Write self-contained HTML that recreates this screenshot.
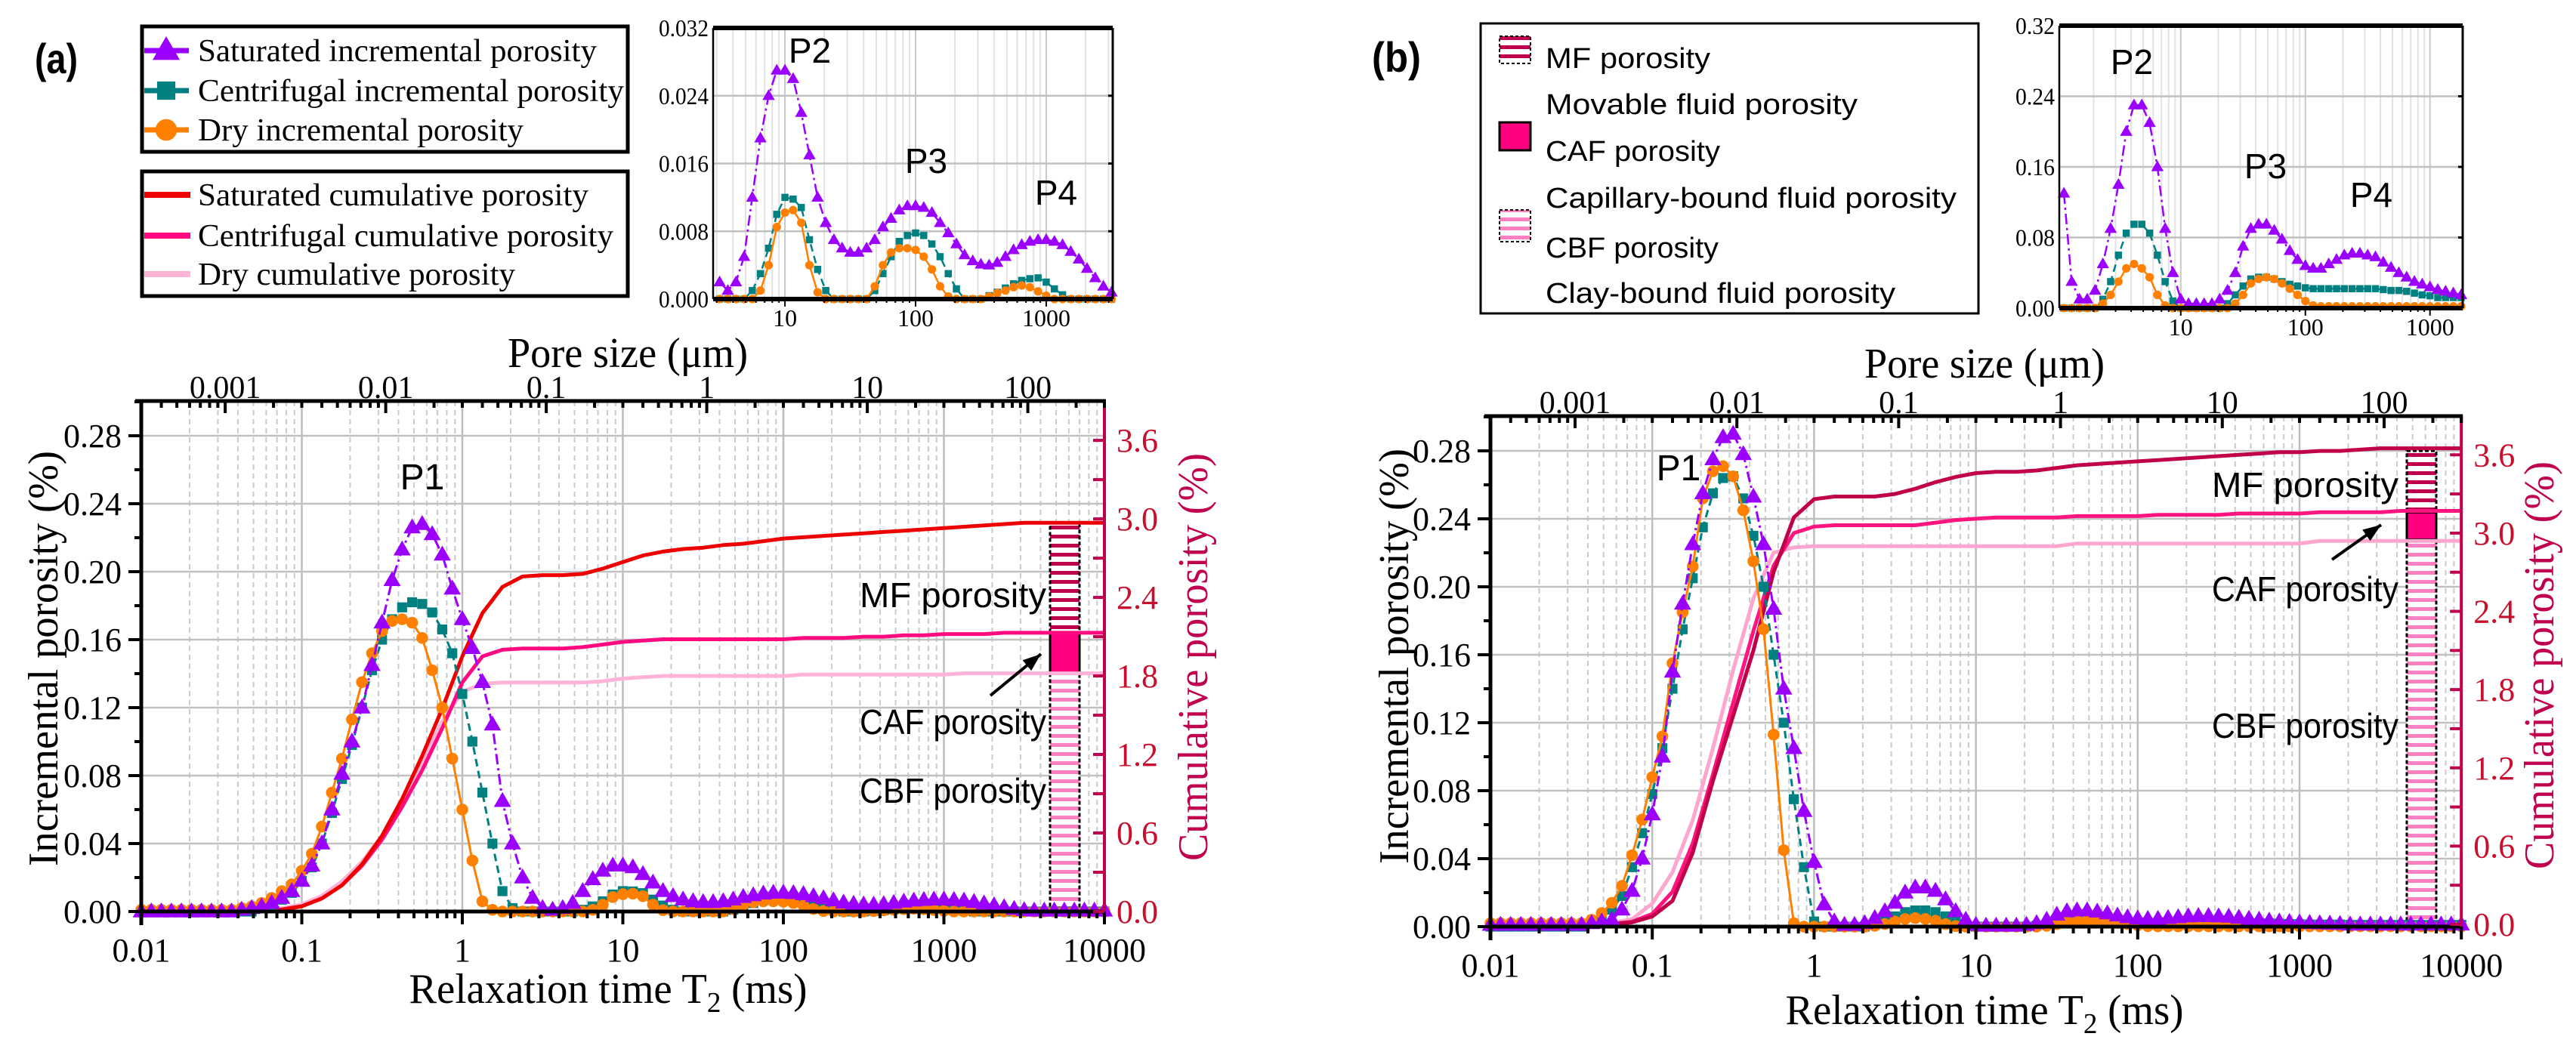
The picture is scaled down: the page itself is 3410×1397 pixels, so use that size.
<!DOCTYPE html>
<html><head><meta charset="utf-8"><style>
html,body{margin:0;padding:0;background:#fff;}
svg{display:block;}
</style></head><body>
<svg id="c" width="3410" height="1397" viewBox="0 0 3410 1397" xmlns="http://www.w3.org/2000/svg" font-family="'Liberation Serif', serif">
<defs>
<pattern id="mfStripe" width="10" height="12" patternUnits="userSpaceOnUse"><rect width="10" height="12" fill="#fff"/><rect y="0" width="10" height="5" fill="#c0004f"/></pattern>
<pattern id="cbfStripe" width="10" height="12" patternUnits="userSpaceOnUse"><rect width="10" height="12" fill="#fff"/><rect y="0" width="10" height="5" fill="#ff80c0"/></pattern>
</defs>
<rect width="3410" height="1397" fill="#fff"/>
</svg>
<script>
// ---------- grids (categories) ----------
const kGrid = Array.from({length:97},(_,k)=>Math.pow(10,-2+k/16));
const jGrid = Array.from({length:49},(_,j)=>Math.pow(10,-2+j/8));

// ---------- panel (a) data ----------
const incSatA = [0,0,0,0,0,0,0,0,0,0,
0.001,0.002,0.003,0.005,0.008,0.012,0.018,0.027,0.04,0.06,
0.081,0.1,0.12,0.145,0.17,0.195,0.213,0.226,0.228,0.222,
0.21,0.19,0.172,0.155,0.135,0.11,0.065,0.04,0.02,0.008,
0.002,0.001,0.002,0.005,0.012,0.019,0.024,0.027,0.027,0.026,
0.022,0.017,0.012,0.009,0.007,0.006,0.0055,0.0055,0.006,0.007,
0.0085,0.0095,0.0105,0.011,0.011,0.0108,0.0102,0.009,0.0078,0.0065,
0.0052,0.0045,0.0041,0.004,0.0043,0.005,0.0058,0.0064,0.0068,0.007,
0.007,0.0068,0.0064,0.0056,0.0047,0.0036,0.0025,0.0015,0.0008,0.0005,
0.0005,0.0005,0.0005,0.0005,0.0005,0.0005,0.0005];
const incCentA = [0,0,0,0,0,0,0,0,0,0,
0,0,0.002,0.004,0.007,0.011,0.018,0.026,0.04,0.058,
0.078,0.098,0.12,0.142,0.16,0.172,0.179,0.182,0.181,0.176,
0.166,0.152,0.128,0.1,0.07,0.04,0.012,0.002,0,0,
0,0,0,0,0.001,0.003,0.006,0.01,0.012,0.0118,
0.0108,0.007,0.0035,0.001,0,0,0,0,0,0.001,
0.003,0.005,0.0068,0.0075,0.0078,0.0075,0.0065,0.005,0.003,0.0012,
0,0,0,0.0004,0.0008,0.0013,0.0018,0.0022,0.0024,0.0025,
0.002,0.0012,0.0005,0,0,0,0,0,0,0,
0,0,0,0,0,0,0];
const incDryA = [0.001,0.001,0.001,0.001,0.001,0.001,0.001,0.001,0.001,0.001,
0.002,0.003,0.005,0.008,0.012,0.016,0.024,0.034,0.05,0.07,
0.09,0.113,0.135,0.152,0.165,0.171,0.172,0.17,0.161,0.142,
0.12,0.09,0.06,0.03,0.006,0.001,0,0,0,0,
0,0,0,0,0,0.001,0.004,0.0085,0.0102,0.0105,
0.009,0.004,0.0008,0,0,0,0,0,0,0.0015,
0.004,0.0055,0.006,0.006,0.0058,0.005,0.0035,0.0015,0.0003,0,
0,0,0,0.0003,0.0007,0.001,0.0014,0.0016,0.0014,0.0009,
0.0004,0,0,0,0,0,0,0,0,0,
0,0,0,0,0,0,0];
const cumSatA = [0,0,0,0,0,0,0.005,0.015,0.04,0.1,
0.2,0.36,0.58,0.86,1.19,1.55,1.95,2.28,2.48,2.56,
2.57,2.57,2.58,2.62,2.67,2.72,2.75,2.77,2.78,2.8,
2.81,2.83,2.85,2.86,2.87,2.88,2.89,2.9,2.91,2.92,
2.93,2.94,2.95,2.96,2.97,2.97,2.97,2.97,2.97];
const cumCentA = [0,0,0,0,0,0,0.005,0.015,0.04,0.1,
0.2,0.35,0.55,0.8,1.08,1.4,1.75,1.95,2.0,2.01,
2.01,2.01,2.02,2.04,2.06,2.07,2.08,2.08,2.08,2.08,
2.08,2.08,2.08,2.09,2.09,2.09,2.1,2.1,2.11,2.11,
2.12,2.12,2.12,2.13,2.13,2.13,2.13,2.13,2.13];
const cumDryA = [0,0,0,0,0,0,0.01,0.025,0.055,0.12,
0.23,0.38,0.58,0.85,1.15,1.45,1.68,1.74,1.75,1.75,
1.75,1.75,1.75,1.76,1.78,1.79,1.8,1.8,1.8,1.8,
1.8,1.8,1.8,1.81,1.81,1.81,1.81,1.81,1.81,1.81,
1.81,1.82,1.82,1.82,1.82,1.82,1.82,1.82,1.82];
const barA = [1.82, 2.13, 2.97];

// ---------- panel (b) data ----------
const incSatB = [0.001,0.001,0.001,0.001,0.001,0.001,0.001,0.001,0.001,0.001,
0.002,0.003,0.004,0.01,0.021,0.04,0.066,0.1,0.15,0.19,
0.225,0.255,0.275,0.288,0.29,0.278,0.253,0.225,0.187,0.14,
0.105,0.068,0.038,0.013,0.003,0.001,0.001,0.002,0.005,0.009,
0.014,0.02,0.023,0.023,0.021,0.016,0.009,0.004,0.001,0.0005,
0.0005,0.0005,0.0005,0.001,0.002,0.004,0.007,0.009,0.0095,0.0095,
0.0088,0.0078,0.0065,0.0055,0.0048,0.0045,0.0045,0.005,0.0055,0.006,
0.0062,0.0062,0.006,0.0058,0.0052,0.0046,0.004,0.0035,0.003,0.0027,
0.0024,0.0021,0.0019,0.0017,0.0015,0.0012,0.0012,0.0012,0.0012,0.0012,
0.0012,0.0012,0.0012,0.0012,0.0012,0.0012,0.0012];
const incCentB = [0,0,0,0,0,0,0,0,0,0,
0.002,0.005,0.01,0.018,0.035,0.055,0.078,0.105,0.14,0.175,
0.205,0.235,0.255,0.264,0.265,0.252,0.23,0.2,0.16,0.12,
0.075,0.035,0.003,0,0,0,0,0,0.001,0.003,
0.006,0.0085,0.0095,0.0095,0.0085,0.006,0.003,0.0008,0,0,
0,0,0,0,0.0005,0.0015,0.0025,0.0033,0.0035,0.0035,
0.0033,0.003,0.0027,0.0025,0.0023,0.0022,0.0022,0.0022,0.0022,0.0022,
0.0022,0.0022,0.0022,0.0022,0.0021,0.002,0.002,0.0019,0.0017,0.0015,
0.0014,0.0012,0.0012,0.0012,0.0012,0.001,0.001,0.001,0.001,0.001,
0.001,0.001,0.001,0.001,0.001,0.001,0.001];
const incDryB = [0.002,0.002,0.002,0.002,0.002,0.002,0.002,0.002,0.002,0.002,
0.004,0.008,0.014,0.024,0.042,0.063,0.088,0.112,0.155,0.185,
0.212,0.252,0.268,0.271,0.265,0.245,0.215,0.175,0.113,0.045,
0.002,0,0,0,0,0,0,0,0.0005,0.0015,
0.003,0.0045,0.005,0.0045,0.0035,0.0015,0.0003,0,0,0,
0,0,0,0,0,0.0005,0.0015,0.0028,0.0033,0.0035,
0.0033,0.0028,0.0022,0.0015,0.0008,0.0003,0.0002,0.0002,0.0002,0.0002,
0.0002,0.0002,0.0002,0.0002,0.0002,0.0002,0.0002,0.0002,0.0002,0.0002,
0.0002,0.0002,0.0002,0.0002,0.0002,0.0002,0.0002,0.0002,0.0002,0.0002,
0.0002,0.0002,0.0002,0.0002,0.0002,0.0002,0.0002];
const cumSatB = [0,0,0,0,0,0,0.002,0.015,0.06,0.18,
0.55,1.1,1.6,2.1,2.7,3.12,3.26,3.28,3.28,3.28,
3.3,3.34,3.39,3.43,3.46,3.47,3.47,3.48,3.5,3.52,
3.53,3.54,3.55,3.56,3.57,3.58,3.59,3.6,3.61,3.62,
3.62,3.63,3.63,3.64,3.65,3.65,3.65,3.65,3.65];
const cumCentB = [0,0,0,0,0,0,0.003,0.02,0.08,0.25,
0.62,1.15,1.7,2.25,2.75,3.0,3.05,3.06,3.06,3.06,
3.06,3.06,3.08,3.1,3.11,3.12,3.12,3.12,3.12,3.13,
3.13,3.13,3.13,3.14,3.14,3.14,3.14,3.15,3.15,3.15,
3.15,3.16,3.16,3.16,3.16,3.17,3.17,3.17,3.17];
const cumDryB = [0,0,0,0,0,0,0.01,0.04,0.16,0.4,
0.8,1.35,1.95,2.5,2.85,2.89,2.9,2.9,2.9,2.9,
2.9,2.9,2.9,2.9,2.9,2.9,2.9,2.9,2.9,2.92,
2.92,2.92,2.92,2.92,2.92,2.92,2.92,2.92,2.92,2.92,
2.92,2.94,2.94,2.94,2.94,2.94,2.94,2.94,2.94];
const barB = [2.95, 3.16, 3.63];

// ---------- tick arrays ----------
const incTicks = [0,0.04,0.08,0.12,0.16,0.2,0.24,0.28];
const incTickLabels = ['0.00','0.04','0.08','0.12','0.16','0.20','0.24','0.28'];
const cumTicks = [0,0.6,1.2,1.8,2.4,3.0,3.6];
const cumTickLabels = ['0.0','0.6','1.2','1.8','2.4','3.0','3.6'];
const t2Ticks = [0.01,0.1,1,10,100,1000,10000];
const t2TickLabels = ['0.01','0.1','1','10','100','1000','10000'];
const poreTicks = [0.001,0.01,0.1,1,10,100];
const poreTickLabels = ['0.001','0.01','0.1','1','10','100'];
const insetTicksA = [0,0.008,0.016,0.024,0.032];
const insetLabelsA = ['0.000','0.008','0.016','0.024','0.032'];
const insetTicksB = [0,0.008,0.016,0.024,0.032];
const insetLabelsB = ['0.00','0.08','0.16','0.24','0.32'];
const insetXTicks = [10,100,1000];
const insetXLabels = ['10','100','1000'];
const poreFactor = 0.03;

// ---------- helpers ----------
const NS='http://www.w3.org/2000/svg';
const svg=document.getElementById('c');
function mk(tag, attrs, parent){const e=document.createElementNS(NS,tag);for(const a in attrs)e.setAttribute(a,attrs[a]);(parent||svg).appendChild(e);return e;}
function tx(str, attrs, parent){const e=mk('text',attrs,parent);e.textContent=str;return e;}
function grp(parent){return mk('g',{},parent);}

function marker(g,type,x,y,s,color){
  let e;
  if(type==='tri'){e=mk('polygon',{points:`${x},${y-s} ${x-s*0.95},${y+s*0.65} ${x+s*0.95},${y+s*0.65}`,fill:color},g);}
  else if(type==='sq'){e=mk('rect',{x:x-s*0.55,y:y-s*0.55,width:s*1.1,height:s*1.1,fill:color},g);}
  else {e=mk('circle',{cx:x,cy:y,r:s*0.65,fill:color},g);}
  return e;
}

const PURPLE='#9b00ff', TEAL='#008080', ORANGE='#ff8000';

function drawMain(P){
  const x1=P.x0+6*P.dec;
  const lx=T=>P.x0+(Math.log10(T)+2)*P.dec;
  const yi=v=>P.yZero-v*P.incPx;
  const yc=v=>P.cumZero-v*P.cumPx;
  const root=grp();
  
  
  // grid
  const gg=grp(root);
  
  
  for(let d=-2;d<=3;d++){for(let m=1;m<=9;m++){
    const x=lx(m*Math.pow(10,d));
    const ln=mk('line',{x1:x,x2:x,y1:P.yTop,y2:P.yZero,stroke:m===1?'#bdbdbd':'#cacaca','stroke-width':m===1?2.5:2,'stroke-dasharray':m===1?'none':'7 5'},gg);
    
    
  }}
  incTicks.forEach(v=>{if(v===0)return;
    const ln=mk('line',{x1:P.x0,x2:x1,y1:yi(v),y2:yi(v),stroke:'#c0c0c0','stroke-width':2.5},gg);
    
    
  });
  // bar
  const bx=P.barX, bw=P.barW;
  const bg=grp(root);
  
  
  const cbf=mk('rect',{x:bx,y:yc(P.bar[0]),width:bw,height:yc(0)-yc(P.bar[0]),fill:'url(#cbfStripe)',stroke:'#000','stroke-width':3,'stroke-dasharray':'5 3'},bg);
  
  
  const caf=mk('rect',{x:bx,y:yc(P.bar[1]),width:bw,height:yc(P.bar[0])-yc(P.bar[1]),fill:'#ff0080',stroke:'#000','stroke-width':3},bg);
  
  
  const mf=mk('rect',{x:bx,y:yc(P.bar[2]),width:bw,height:yc(P.bar[1])-yc(P.bar[2]),fill:'url(#mfStripe)',stroke:'#000','stroke-width':3,'stroke-dasharray':'5 3'},bg);
  
  
  // cumulative curves
  P.cums.forEach(c=>{
    const pts=c.vals.map((v,j)=>`${lx(jGrid[j]).toFixed(1)},${yc(v).toFixed(1)}`).join(' ');
    const pl=mk('polyline',{points:pts,fill:'none',stroke:c.color,'stroke-width':5,'stroke-linejoin':'round'},root);
    
    
  });
  // incremental series
  P.incs.forEach(s=>{
    const sg=grp(root);
    
    
    const pts=s.vals.map((v,k)=>`${lx(kGrid[k]).toFixed(1)},${yi(v).toFixed(1)}`).join(' ');
    const pl=mk('polyline',{points:pts,fill:'none',stroke:s.color,'stroke-width':3,'stroke-dasharray':s.dash},sg);
    
    
    s.vals.forEach((v,k)=>{
      const m=marker(sg,s.marker,lx(kGrid[k]),yi(v),s.size,s.color);
      
      
    });
  });
  // axes
  const ag=grp(root);
  
  
  const la=mk('line',{x1:P.x0,x2:P.x0,y1:P.yTop-2,y2:P.yZero+18,stroke:'#000','stroke-width':5},ag);
  
  
  const ba=mk('line',{x1:P.x0-2,x2:x1+2,y1:P.yZero,y2:P.yZero,stroke:'#000','stroke-width':5},ag);
  
  
  const ta=mk('line',{x1:P.x0-8,x2:x1+2,y1:P.yTop,y2:P.yTop,stroke:'#000','stroke-width':5},ag);
  
  
  const ra=mk('line',{x1:x1,x2:x1,y1:P.yTop,y2:P.yZero,stroke:'#c0004f','stroke-width':4},ag);
  
  
  // bottom ticks
  for(let d=-2;d<=4;d++){for(let m=1;m<=9;m++){
    const T=m*Math.pow(10,d); if(T>10000.01)continue;
    const x=lx(T);
    const tk=mk('line',{x1:x,x2:x,y1:P.yZero,y2:P.yZero+(m===1?17:9),stroke:'#000','stroke-width':4},ag);
    
    
  }}
  t2Ticks.forEach((T,i)=>{
    const t=tx(t2TickLabels[i],{x:lx(T),y:P.yZero+66,'font-size':44,'text-anchor':'middle'},ag);
    
    
  });
  // top pore ticks
  for(let d=-4;d<=3;d++){for(let m=1;m<=9;m++){
    const p=m*Math.pow(10,d);const T=p/poreFactor; if(T<0.01||T>10000)continue;
    const x=lx(T);
    const tk=mk('line',{x1:x,x2:x,y1:P.yTop,y2:P.yTop+(m===1?16:9),stroke:'#000','stroke-width':4},ag);
    
    
  }}
  poreTicks.forEach((p,i)=>{
    const t=tx(poreTickLabels[i],{x:lx(p/poreFactor),y:P.yTop-4,'font-size':42,'text-anchor':'middle'},ag);
    
    
  });
  // left ticks
  incTicks.forEach((v,i)=>{
    const tk=mk('line',{x1:P.x0-17,x2:P.x0,y1:yi(v),y2:yi(v),stroke:'#000','stroke-width':4},ag);
    
    
    const mn=mk('line',{x1:P.x0-9,x2:P.x0,y1:yi(v+0.02),y2:yi(v+0.02),stroke:'#000','stroke-width':4},ag);
    
    
    const t=tx(incTickLabels[i],{x:P.x0-26,y:yi(v)+15,'font-size':44,'text-anchor':'end'},ag);
    
    
  });
  // right cumulative ticks
  cumTicks.forEach((v,i)=>{
    const tk=mk('line',{x1:x1-15,x2:x1,y1:yc(v),y2:yc(v),stroke:'#c0004f','stroke-width':4},ag);
    
    
    if(v<3.6){const mn=mk('line',{x1:x1-15,x2:x1,y1:yc(v+0.3),y2:yc(v+0.3),stroke:'#c0004f','stroke-width':4},ag);
    
    }
    const t=tx(cumTickLabels[i],{x:x1+16,y:yc(v)+15,'font-size':44,fill:'#c8102e'},ag);
    
    
  });
  // titles
  const xt=tx('Relaxation time T',{x:P.xTitleX,y:P.xTitleY,'font-size':56,'text-anchor':'middle',textLength:527,lengthAdjust:'spacingAndGlyphs'},root);
  
  
  const ts=mk('tspan',{'font-size':38,dy:12},xt); ts.textContent='2';
  const ts2=mk('tspan',{dy:-12},xt); ts2.textContent=' (ms)';
  const pt=tx('Pore size (μm)',{x:P.poreTitleX,y:P.poreTitleY,'font-size':56,'text-anchor':'middle',textLength:318,lengthAdjust:'spacingAndGlyphs'},root);
  
  
  const yt=tx('Incremental porosity (%)',{transform:`translate(${P.yTitleX},${P.yTitleY}) rotate(-90)`,'font-size':56,'text-anchor':'middle',textLength:550,lengthAdjust:'spacingAndGlyphs'},root);
  
  
  const ct=tx('Cumulative porosity (%)',{transform:`translate(${P.cTitleX},${P.cTitleY}) rotate(-90)`,'font-size':56,'text-anchor':'middle',fill:'#c0004f',textLength:540,lengthAdjust:'spacingAndGlyphs'},root);
  
  
  // annotations
  const sans="'Liberation Sans', sans-serif";
  const p1=tx('P1',{x:P.p1[0],y:P.p1[1]+17,'font-size':48,'text-anchor':'middle','font-family':sans},root);
  
  
  [['MF porosity',P.mfY,'mf-porosity-label'],['CAF porosity',P.cafY,'caf-porosity-label'],['CBF porosity',P.cbfY,'cbf-porosity-label']].forEach(a=>{
    const t=tx(a[0],{x:P.labRight,y:a[1]+16,'font-size':46,'text-anchor':'end','font-family':sans,textLength:247,lengthAdjust:'spacingAndGlyphs'},root);
    
    
  });
  const ar=mk('line',{x1:P.arrow[0],y1:P.arrow[1],x2:P.arrow[2],y2:P.arrow[3],stroke:'#000','stroke-width':4},root);
  
  
  const ang=Math.atan2(P.arrow[3]-P.arrow[1],P.arrow[2]-P.arrow[0]);
  const hx=P.arrow[2],hy=P.arrow[3],L=24,W=9;
  const bxp=hx-L*Math.cos(ang),byp=hy-L*Math.sin(ang);
  const ah=mk('polygon',{points:`${hx},${hy} ${bxp+W*Math.sin(ang)},${byp-W*Math.cos(ang)} ${bxp-W*Math.sin(ang)},${byp+W*Math.cos(ang)}`,fill:'#000'},root);
  
  
}

function drawInset(I){
  const lx=T=>I.x0+(Math.log10(T)-Math.log10(I.tmin))/(Math.log10(I.tmax)-Math.log10(I.tmin))*(I.x1-I.x0);
  const yv=v=>I.yBot-v/I.ymax*(I.yBot-I.yTop);
  const root=grp();
  
  
  for(let d=0;d<=3;d++){for(let m=1;m<=9;m++){
    const T=m*Math.pow(10,d); if(T<I.tmin||T>I.tmax)continue;
    const x=lx(T);
    const ln=mk('line',{x1:x,x2:x,y1:I.yTop,y2:I.yBot,stroke:m===1?'#c8c8c8':'#e2e2e2','stroke-width':2},root);
    
    
  }}
  I.ticks.forEach((v,i)=>{
    if(v>0&&v<I.ymax){const ln=mk('line',{x1:I.x0,x2:I.x1,y1:yv(v),y2:yv(v),stroke:'#c0c0c0','stroke-width':2.5},root);
    
    }
    const t=tx(I.labels[i],{x:I.x0-6,y:yv(v)+11,'font-size':32,'text-anchor':'end',textLength:I.labW,lengthAdjust:'spacingAndGlyphs'},root);
    
    
    const tk=mk('line',{x1:I.x1-6,x2:I.x1,y1:yv(v),y2:yv(v),stroke:'#000','stroke-width':3},root);
    
    
  });
  insetXTicks.forEach((T,i)=>{
    const t=tx(insetXLabels[i],{x:lx(T),y:I.yBot+36,'font-size':32,'text-anchor':'middle'},root);
    
    
  });
  I.incs.forEach(s=>{
    const sg=grp(root);
    
    
    const pts=[];
    s.vals.forEach((v,k)=>{const T=kGrid[k];if(T>=I.tmin*0.999&&T<=I.tmax*1.001)pts.push(`${lx(T).toFixed(1)},${yv(v).toFixed(1)}`);});
    const pl=mk('polyline',{points:pts.join(' '),fill:'none',stroke:s.color,'stroke-width':2.5,'stroke-dasharray':s.dash},sg);
    
    
    s.vals.forEach((v,k)=>{const T=kGrid[k];if(T<I.tmin*0.999||T>I.tmax*1.001)return;
      const m=marker(sg,s.marker,lx(T),yv(v),s.size*0.72,s.color);
      
      
    });
  });
  const ax=[[I.x0,I.yTop,I.x0,I.yBot,2.5],[I.x1,I.yTop,I.x1,I.yBot,3],[I.x0,I.yTop,I.x1,I.yTop,6],[I.x0,I.yBot,I.x1,I.yBot,6]];
  ax.forEach(a=>{const l=mk('line',{x1:a[0],y1:a[1],x2:a[2],y2:a[3],stroke:'#000','stroke-width':a[4]},root);
    
    });
  for(let d=0;d<=3;d++){for(let m=1;m<=9;m++){
    const T=m*Math.pow(10,d); if(T<I.tmin||T>I.tmax)continue;
    const tk=mk('line',{x1:lx(T),x2:lx(T),y1:I.yBot,y2:I.yBot+(m===1?10:5),stroke:'#000','stroke-width':2},root);
    
    
  }}
  const sans="'Liberation Sans', sans-serif";
  I.peaks.forEach(p=>{
    const t=tx(p[0],{x:p[1],y:p[2]+16,'font-size':46,'text-anchor':'middle','font-family':sans},root);
    
    
  });
}

const serA=[
 {name:'centrifugal-incremental-a',vals:incCentA,color:TEAL,marker:'sq',size:12,dash:'10 6'},
 {name:'dry-incremental-a',vals:incDryA,color:ORANGE,marker:'circ',size:12,dash:'none'},
 {name:'saturated-incremental-a',vals:incSatA,color:PURPLE,marker:'tri',size:12,dash:'14 5 3 5'}];
const serB=[
 {name:'centrifugal-incremental-b',vals:incCentB,color:TEAL,marker:'sq',size:12,dash:'10 6'},
 {name:'dry-incremental-b',vals:incDryB,color:ORANGE,marker:'circ',size:12,dash:'none'},
 {name:'saturated-incremental-b',vals:incSatB,color:PURPLE,marker:'tri',size:12,dash:'14 5 3 5'}];

drawMain({name:'panel-a',x0:187,dec:212.5,yTop:531,yZero:1207,incPx:2250,cumZero:1207,cumPx:173.3,
 barX:1390,barW:39,bar:barA,
 cums:[{name:'dry-cumulative-a',vals:cumDryA,color:'#ffb3d9'},{name:'centrifugal-cumulative-a',vals:cumCentA,color:'#ff0a80'},{name:'saturated-cumulative-a',vals:cumSatA,color:'#ee0000'}],
 incs:serA,xTitleX:805,xTitleY:1328,poreTitleX:831,poreTitleY:486,yTitleX:76,yTitleY:872,cTitleX:1598,cTitleY:870,
 p1:[559,631],labRight:1385,mfY:788,cafY:956,cbfY:1047,arrow:[1311,921,1378,866]});
drawMain({name:'panel-b',x0:1973,dec:214.2,yTop:551,yZero:1227,incPx:2250,cumZero:1224,cumPx:172.7,
 barX:3186,barW:39,bar:barB,
 cums:[{name:'dry-cumulative-b',vals:cumDryB,color:'#ffa6cf'},{name:'centrifugal-cumulative-b',vals:cumCentB,color:'#ff1480'},{name:'saturated-cumulative-b',vals:cumSatB,color:'#c00048'}],
 incs:serB,xTitleX:2627,xTitleY:1356,poreTitleX:2627,poreTitleY:500,yTitleX:1864,yTitleY:869,cTitleX:3380,cTitleY:881,
 p1:[2222,619],labRight:3175,mfY:642,cafY:780,cbfY:961,arrow:[3087,741,3152,695]});

drawInset({name:'panel-a',x0:944,x1:1473,tmin:2.82,tmax:3230,yTop:37,yBot:396,ymax:0.032,ticks:insetTicksA,labels:insetLabelsA,labW:66,incs:serA,
 peaks:[['P2',1072,67],['P3',1226,213],['P4',1398,255]]});
drawInset({name:'panel-b',x0:2726,x1:3260,tmin:1.06,tmax:1830,yTop:34,yBot:408,ymax:0.032,ticks:insetTicksB,labels:insetLabelsB,labW:52,incs:serB,
 peaks:[['P2',2822,82],['P3',2999,220],['P4',3139,258]]});

// ---------- legends ----------
(function(){
  const lg=grp();
  
  
  const r1=mk('rect',{x:188,y:35,width:643,height:166,fill:'#fff',stroke:'#000','stroke-width':5},lg);
  
  
  const ent=[['Saturated incremental porosity',67,PURPLE,'tri',528],['Centrifugal incremental porosity',120,TEAL,'sq',564],['Dry incremental porosity',172,ORANGE,'circ',431]];
  ent.forEach(e=>{
    const g=grp(lg);
    
    
    const l=mk('line',{x1:191,x2:250,y1:e[1],y2:e[1],stroke:e[2],'stroke-width':7},g);
    
    
    const m=marker(g,e[3],220,e[1],e[3]==='tri'?19:22,e[2]);
    
    
    const t=tx(e[0],{x:262,y:e[1]+14,'font-size':42,textLength:e[4],lengthAdjust:'spacingAndGlyphs'},g);
    
    
  });
  const lg2=grp();
  
  
  const r2=mk('rect',{x:188,y:227,width:643,height:165,fill:'#fff',stroke:'#000','stroke-width':5},lg2);
  
  
  const ent2=[['Saturated cumulative porosity',258,'#ee0000',517],['Centrifugal cumulative porosity',312,'#ff0a80',550],['Dry cumulative porosity',363,'#ffb3d9',420]];
  ent2.forEach(e=>{
    const g=grp(lg2);
    
    
    const l=mk('line',{x1:191,x2:252,y1:e[1],y2:e[1],stroke:e[2],'stroke-width':8},g);
    
    
    const t=tx(e[0],{x:262,y:e[1]+14,'font-size':42,textLength:e[3],lengthAdjust:'spacingAndGlyphs'},g);
    
    
  });
  const pa=tx('(a)',{x:46,y:97,'font-size':56,'font-weight':'bold','font-family':"'Liberation Sans', sans-serif",textLength:57,lengthAdjust:'spacingAndGlyphs'});
  
  
  const pb=tx('(b)',{x:1816,y:95,'font-size':56,'font-weight':'bold','font-family':"'Liberation Sans', sans-serif",textLength:65,lengthAdjust:'spacingAndGlyphs'});
  
  

  const lb=grp();
  
  
  const r3=mk('rect',{x:1960,y:31,width:659,height:384,fill:'#fff',stroke:'#000','stroke-width':3},lb);
  
  
  const s1=mk('rect',{x:1985,y:48,width:41,height:36,fill:'url(#mfStripe)',stroke:'#000','stroke-width':2,'stroke-dasharray':'4 3'},lb);
  
  
  const s2=mk('rect',{x:1985,y:162,width:41,height:37,fill:'#ff0080',stroke:'#000','stroke-width':3},lb);
  
  
  const s3=mk('rect',{x:1985,y:278,width:41,height:42,fill:'url(#cbfStripe)',stroke:'#000','stroke-width':2,'stroke-dasharray':'4 3'},lb);
  
  
  const ent3=[['MF porosity',77,218],['Movable fluid porosity',138,413],['CAF porosity',200,231],['Capillary-bound fluid porosity',262,544],['CBF porosity',328,229],['Clay-bound fluid porosity',388,463]];
  ent3.forEach(e=>{
    const t=tx(e[0],{x:2046,y:e[1]+13,'font-size':38,'font-family':"'Liberation Sans', sans-serif",textLength:e[2],lengthAdjust:'spacingAndGlyphs'},lb);
    
    
  });
})();
</script>
</body></html>
